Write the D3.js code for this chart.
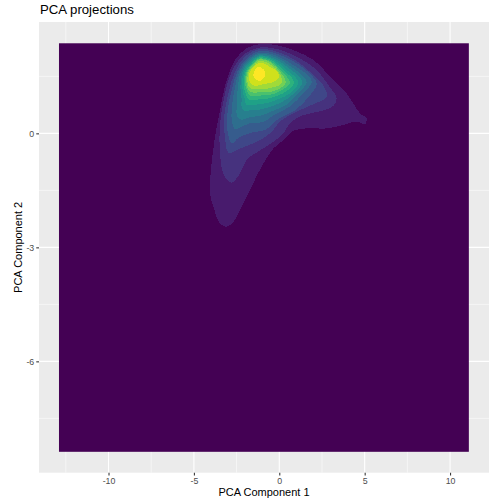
<!DOCTYPE html>
<html>
<head>
<meta charset="utf-8">
<script src="https://d3js.org/d3.v7.min.js"></script>
<style>
  html, body { margin: 0; padding: 0; background: #fff; }
  text { font-family: "Liberation Sans", Arial, sans-serif; }
</style>
</head>
<body>
<svg id="chart" width="504" height="504"></svg>
<script>
// axis info
const xLimits = [-14.07, 12.28];
const yLimits = [-8.93, 2.93];
const xTicks = [-10, -5, 0, 5, 10];
const yTicks = [0, -3, -6];
const xMinor = [-12.5, -7.5, -2.5, 2.5, 7.5];
const yMinor = [1.5, -1.5, -4.5, -7.5];
const gridX = [-12.9, 11.1];
const gridY = [-8.38, 2.37];

// density bands, outermost first
const level1 = [[-1.13,2.35],[-0.15,2.32],[0.82,2.19],[2.0,1.93],[3.16,1.40],[3.94,1.05],[4.72,0.53],[5.11,0.39],[5.02,0.24],[4.53,0.31],[3.75,0.22],[2.77,0.13],[1.60,0.13],[0.82,0.07],[0.24,-0.18],[-0.35,-0.40],[-0.93,-0.79],[-1.72,-1.49],[-2.20,-1.93],[-2.69,-2.33],[-3.08,-2.46],[-3.47,-2.37],[-3.86,-1.93],[-4.06,-1.58],[-4.02,-1.05],[-3.76,-0.09],[-3.47,0.61],[-3.08,1.40],[-2.59,1.93],[-1.91,2.24]];
const level2 = [[-1.13,2.26],[-0.06,2.21],[1.21,1.97],[2.19,1.67],[2.87,1.27],[3.36,0.92],[3.16,0.72],[2.29,0.57],[1.41,0.48],[0.72,0.31],[0.14,-0.05],[-0.64,-0.31],[-1.42,-0.53],[-1.91,-0.70],[-2.30,-1.05],[-2.79,-1.30],[-3.24,-1.10],[-3.47,-0.53],[-3.47,0.26],[-3.18,1.05],[-2.79,1.62],[-2.11,2.06]];
const level3 = [[-1.13,2.22],[-0.06,2.14],[1.02,1.90],[1.89,1.58],[2.62,1.23],[2.77,0.96],[2.0,0.77],[1.02,0.57],[0.14,0.35],[-0.54,0.0],[-1.32,-0.22],[-2.30,-0.40],[-2.98,-0.51],[-3.18,-0.09],[-3.24,0.35],[-2.98,1.05],[-2.59,1.62],[-2.01,2.02]];
const level4 = [[-1.13,2.17],[-0.1,2.09],[1.0,1.85],[1.95,1.5],[2.2,1.3],[1.85,1.03],[0.9,0.6],[-0.05,0.38],[-0.8,0.1],[-1.71,0.01],[-2.4,-0.12],[-2.78,-0.27],[-3.05,0.1],[-3.02,0.6],[-2.79,1.14],[-2.46,1.62],[-1.91,1.97]];
const level5 = [[-1.13,2.12],[-0.15,2.04],[0.85,1.79],[1.75,1.5],[1.9,1.35],[1.4,1.05],[0.6,0.7],[-0.25,0.5],[-0.95,0.3],[-1.71,0.27],[-2.3,0.15],[-2.62,0.12],[-2.8,0.45],[-2.72,0.88],[-2.6,1.18],[-2.35,1.62],[-1.85,1.94]];
const level6 = [[-1.15,2.09],[-0.2,2.0],[0.7,1.75],[1.5,1.45],[1.6,1.33],[1.1,1.05],[0.4,0.75],[-0.45,0.58],[-1.1,0.46],[-1.71,0.43],[-2.2,0.36],[-2.45,0.42],[-2.5,0.72],[-2.45,1.1],[-2.25,1.62],[-1.8,1.91]];
const level7 = [[-1.15,2.05],[-0.25,1.96],[0.55,1.72],[1.25,1.45],[1.35,1.32],[0.8,1.03],[0.15,0.82],[-0.6,0.69],[-1.2,0.62],[-1.71,0.61],[-2.05,0.58],[-2.22,0.72],[-2.2,0.88],[-2.28,1.2],[-2.15,1.62],[-1.75,1.88]];
const level8 = [[-1.15,2.03],[-0.3,1.93],[0.4,1.68],[1.05,1.42],[1.1,1.3],[0.55,1.03],[-0.05,0.9],[-0.7,0.8],[-1.25,0.76],[-1.71,0.75],[-1.95,0.76],[-2.02,0.9],[-2.18,1.22],[-2.07,1.62],[-1.7,1.85]];
const level9 = [[-1.15,2.0],[-0.33,1.89],[0.28,1.65],[0.8,1.42],[0.85,1.3],[0.25,1.06],[-0.25,0.97],[-0.8,0.9],[-1.3,0.89],[-1.71,0.88],[-1.88,0.95],[-2.08,1.25],[-2.0,1.6],[-1.66,1.82]];
const level10 = [[-1.15,1.97],[-0.38,1.86],[0.15,1.63],[0.55,1.42],[0.6,1.3],[0.0,1.1],[-0.4,1.03],[-0.9,1.0],[-1.35,0.99],[-1.71,0.98],[-1.85,1.08],[-2.0,1.3],[-1.93,1.6],[-1.62,1.8]];
const level11 = [[-1.15,1.95],[-0.42,1.84],[0.05,1.62],[0.35,1.42],[0.35,1.3],[-0.2,1.13],[-0.6,1.09],[-1.0,1.08],[-1.71,1.09],[-1.85,1.18],[-1.93,1.38],[-1.87,1.6],[-1.6,1.78]];
const level12 = [[-1.15,1.91],[-0.48,1.8],[-0.05,1.62],[0.15,1.42],[0.1,1.3],[-0.45,1.2],[-0.9,1.17],[-1.3,1.17],[-1.71,1.19],[-1.85,1.3],[-1.86,1.48],[-1.8,1.62],[-1.55,1.76]];
const level13 = [[-1.13,1.86],[-0.54,1.75],[-0.08,1.6],[-0.05,1.45],[-0.4,1.34],[-0.9,1.3],[-1.4,1.25],[-1.71,1.33],[-1.78,1.5],[-1.72,1.62],[-1.48,1.75]];
const level14 = [[-1.17,1.75],[-0.90,1.67],[-0.82,1.53],[-1.03,1.40],[-1.32,1.40],[-1.52,1.51],[-1.42,1.68]];
const levels = [level1, level2, level3, level4, level5, level6, level7, level8, level9, level10, level11, level12, level13, level14];

const svg = d3.select("#chart");
const panel = { left: 39, right: 489, top: 22, bottom: 472.7 };

const x = d3.scaleLinear().domain(xLimits).range([panel.left, panel.right]);
const y = d3.scaleLinear().domain(yLimits).range([panel.bottom, panel.top]);
const fill = d3.scaleSequential(d3.interpolateViridis).domain([0, levels.length]);

svg.append("rect")
  .attr("x", panel.left).attr("y", panel.top)
  .attr("width", panel.right - panel.left).attr("height", panel.bottom - panel.top)
  .attr("fill", "#ebebeb");

// grid
svg.selectAll(".minor-x").data(xMinor).enter().append("line")
  .attr("x1", d => x(d)).attr("x2", d => x(d))
  .attr("y1", panel.top).attr("y2", panel.bottom)
  .attr("stroke", "#fff").attr("stroke-width", 0.53);
svg.selectAll(".minor-y").data(yMinor).enter().append("line")
  .attr("y1", d => y(d)).attr("y2", d => y(d))
  .attr("x1", panel.left).attr("x2", panel.right)
  .attr("stroke", "#fff").attr("stroke-width", 0.53);
svg.selectAll(".major-x").data(xTicks).enter().append("line")
  .attr("x1", d => x(d)).attr("x2", d => x(d))
  .attr("y1", panel.top).attr("y2", panel.bottom)
  .attr("stroke", "#fff").attr("stroke-width", 1.07);
svg.selectAll(".major-y").data(yTicks).enter().append("line")
  .attr("y1", d => y(d)).attr("y2", d => y(d))
  .attr("x1", panel.left).attr("x2", panel.right)
  .attr("stroke", "#fff").attr("stroke-width", 1.07);

// density
svg.append("rect")
  .attr("x", x(gridX[0])).attr("y", y(gridY[1]))
  .attr("width", x(gridX[1]) - x(gridX[0])).attr("height", y(gridY[0]) - y(gridY[1]))
  .attr("fill", fill(0));

const line = d3.line().x(d => x(d[0])).y(d => y(d[1])).curve(d3.curveCatmullRomClosed);
svg.selectAll(".band").data(levels).enter().append("path")
  .attr("d", line)
  .attr("fill", (d, i) => fill(i + 1))
  .attr("shape-rendering", "crispEdges");

// axes
const xAxis = d3.axisBottom(x).tickValues(xTicks).tickFormat(String).tickSize(2.74).tickPadding(2);
const yAxis = d3.axisLeft(y).tickValues(yTicks).tickFormat(String).tickSize(2.74).tickPadding(2);
const gx = svg.append("g").attr("transform", `translate(0,${panel.bottom})`).call(xAxis);
const gy = svg.append("g").attr("transform", `translate(${panel.left},0)`).call(yAxis);
[gx, gy].forEach(g => {
  g.select(".domain").remove();
  g.selectAll("line").attr("stroke", "#333").attr("stroke-width", 1.07);
  g.selectAll("text").attr("fill", "#4d4d4d").style("font-size", "8.8px");
});

svg.append("text").attr("x", 40).attr("y", 14).attr("font-size", 13.2).attr("fill", "#000")
  .text("PCA projections");
svg.append("text").attr("x", (panel.left + panel.right) / 2).attr("y", 496).attr("font-size", 11)
  .attr("text-anchor", "middle").attr("fill", "#000").text("PCA Component 1");
svg.append("text").attr("transform", `translate(22,${(panel.top + panel.bottom) / 2}) rotate(-90)`)
  .attr("font-size", 11).attr("text-anchor", "middle").attr("fill", "#000").text("PCA Component 2");
</script>
</body>
</html>
